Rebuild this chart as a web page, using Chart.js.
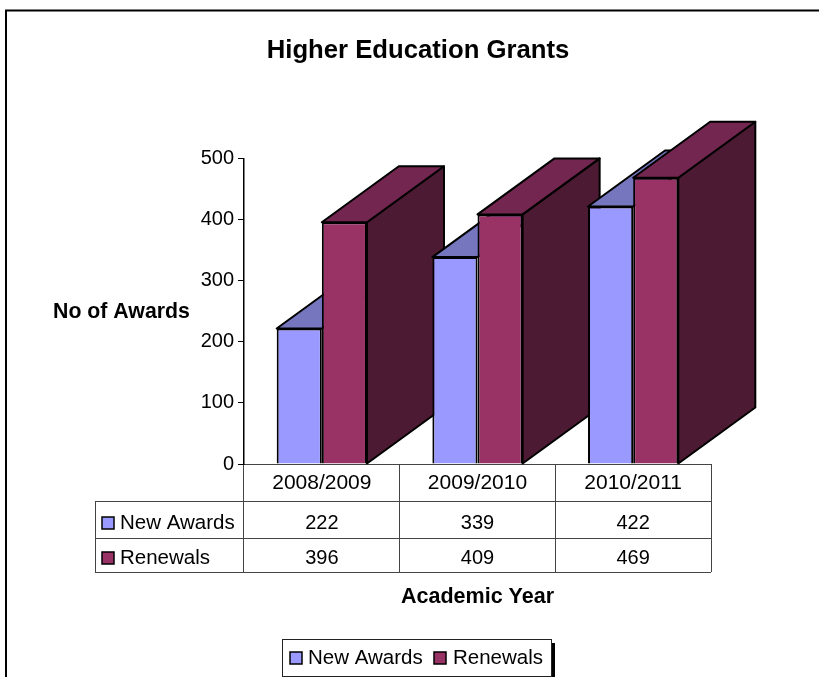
<!DOCTYPE html>
<html>
<head>
<meta charset="utf-8">
<title>Higher Education Grants</title>
<script src="https://cdn.jsdelivr.net/npm/chart.js@4"></script>
<style>
  body { margin: 0; background: #fff; }
  canvas { display: block; }
</style>
</head>
<body>
<canvas id="chart" width="819" height="677"></canvas>
<script>
const years = ['2008/2009', '2009/2010', '2010/2011'];
const newAwards = [222, 339, 422];
const renewals = [396, 409, 469];
const yTicks = [0, 100, 200, 300, 400, 500];

const FONT = '"Liberation Sans", Arial, sans-serif';
const LINE = '#444';
const DEPTH_X = 77, DEPTH_Y = 56;

const faces = [
    { front: '#9999ff', top: '#7676be', side: '#5c5c99' },
    { front: '#993366', top: '#732650', side: '#4d1a33' }
];

function poly(ctx, pts, fill) {
    ctx.beginPath();
    pts.forEach((p, i) => i ? ctx.lineTo(p[0], p[1]) : ctx.moveTo(p[0], p[1]));
    ctx.closePath();
    ctx.fillStyle = fill;
    ctx.fill();
    ctx.stroke();
}

function swatch(ctx, x, y, color) {
    ctx.fillStyle = color;
    ctx.strokeStyle = '#000';
    ctx.lineWidth = 1.5;
    ctx.fillRect(x, y, 12, 12);
    ctx.strokeRect(x, y, 12, 12);
}

// side and top of each bar, category by category so nearer groups overlap
const bars3d = {
    id: 'bars3d',
    beforeDatasetsDraw(chart) {
        const ctx = chart.ctx;
        const count = chart.data.datasets.length;
        ctx.save();
        ctx.strokeStyle = '#000';
        ctx.lineWidth = 2;
        ctx.lineJoin = 'round';
        years.forEach((y, j) => {
            for (let i = 0; i < count; i++) {
                const b = chart.getDatasetMeta(i).data[j];
                const next = i < count - 1 ? chart.getDatasetMeta(i + 1).data[j] : null;
                const l = b.x - b.width / 2, r = b.x + b.width / 2;
                // a side hidden behind the next, taller bar is not drawn
                if (!next || next.y > b.y) {
                    poly(ctx, [[r, b.y], [r + DEPTH_X, b.y - DEPTH_Y], [r + DEPTH_X, b.base - DEPTH_Y], [r, b.base]], faces[i].side);
                }
                poly(ctx, [[l, b.y], [l + DEPTH_X, b.y - DEPTH_Y], [r + DEPTH_X, b.y - DEPTH_Y], [r, b.y]], faces[i].top);
            }
        });
        ctx.restore();
    }
};

// data table under the axis, legend box, outer frame, horizontal y title
const extras = {
    id: 'extras',
    afterDraw(chart) {
        const ctx = chart.ctx;
        const xs = chart.scales.x;
        const rows = [
            { name: 'New Awards', values: newAwards, color: faces[0].front, line: 501, mid: 520 },
            { name: 'Renewals', values: renewals, color: faces[1].front, line: 538, mid: 555 }
        ];
        const tableLeft = 95, tableBottom = 572;

        ctx.save();
        ctx.strokeStyle = '#000';
        ctx.lineWidth = 2;
        ctx.beginPath();
        ctx.moveTo(819, 10.5);
        ctx.lineTo(6, 10.5);
        ctx.lineTo(6, 677);
        ctx.stroke();

        ctx.strokeStyle = LINE;
        ctx.lineWidth = 1;
        ctx.beginPath();
        rows.forEach(r => {
            ctx.moveTo(tableLeft, r.line + 0.5);
            ctx.lineTo(xs.right, r.line + 0.5);
        });
        ctx.moveTo(tableLeft, tableBottom + 0.5);
        ctx.lineTo(xs.right, tableBottom + 0.5);
        ctx.moveTo(tableLeft + 0.5, rows[0].line);
        ctx.lineTo(tableLeft + 0.5, tableBottom);
        ctx.stroke();

        ctx.textBaseline = 'middle';
        rows.forEach(r => {
            swatch(ctx, 102, r.mid - 3, r.color);
            ctx.fillStyle = '#000';
            ctx.font = '20.5px ' + FONT;
            ctx.textAlign = 'left';
            ctx.fillText(r.name, 120, r.mid + 3);
            ctx.font = '20px ' + FONT;
            ctx.textAlign = 'center';
            r.values.forEach((v, i) => ctx.fillText(String(v), xs.getPixelForValue(i), r.mid + 3));
        });

        ctx.font = 'bold 21.3px ' + FONT;
        ctx.textAlign = 'left';
        ctx.fillText('No of Awards', 53, 312);

        // legend with its shadow
        ctx.fillStyle = '#000';
        ctx.fillRect(551, 643, 4, 34);
        ctx.fillStyle = '#fff';
        ctx.strokeStyle = '#222';
        ctx.lineWidth = 1;
        ctx.fillRect(282.5, 639.5, 269, 37);
        ctx.strokeRect(282.5, 639.5, 269, 37);
        ctx.font = '20.5px ' + FONT;
        swatch(ctx, 290, 652, faces[0].front);
        swatch(ctx, 434, 652, faces[1].front);
        ctx.fillStyle = '#000';
        ctx.fillText('New Awards', 308, 658);
        ctx.fillText('Renewals', 453, 658);
        ctx.restore();
    }
};

Chart.defaults.font.family = FONT;
Chart.defaults.color = '#000';

new Chart(document.getElementById('chart'), {
    type: 'bar',
    data: {
        labels: years,
        datasets: [
            { label: 'New Awards', data: newAwards, backgroundColor: faces[0].front },
            { label: 'Renewals', data: renewals, backgroundColor: faces[1].front }
        ]
    },
    options: {
        responsive: false,
        animation: false,
        layout: { padding: { left: 125, right: 108, top: 0, bottom: 67.4 } },
        datasets: {
            bar: {
                categoryPercentage: 0.58,
                barPercentage: 1,
                borderColor: '#000',
                borderWidth: 2
            }
        },
        plugins: {
            legend: { display: false },
            tooltip: { enabled: false },
            title: {
                display: true,
                text: 'Higher Education Grants',
                font: { size: 25.7, weight: 'bold' },
                padding: { top: 35, bottom: 93 }
            }
        },
        scales: {
            x: {
                afterFit(scale) { scale.height = 145.6; },
                grid: {
                    offset: true,
                    drawOnChartArea: false,
                    color: LINE,
                    tickLength: 108
                },
                border: { color: LINE },
                ticks: { font: { size: 21 }, padding: -101, maxRotation: 0 },
                title: {
                    display: true,
                    text: 'Academic Year',
                    font: { size: 21.5, weight: 'bold' },
                    padding: 0
                }
            },
            y: {
                min: 0,
                max: yTicks[yTicks.length - 1],
                afterFit(scale) { scale.width = 119; },
                afterBuildTicks(scale) { scale.ticks = yTicks.map(v => ({ value: v })); },
                grid: { drawOnChartArea: false, color: '#000', tickLength: 6 },
                border: { color: '#000', width: 1.5 },
                ticks: { font: { size: 20 }, padding: 4 }
            }
        }
    },
    plugins: [bars3d, extras]
});
</script>
</body>
</html>
